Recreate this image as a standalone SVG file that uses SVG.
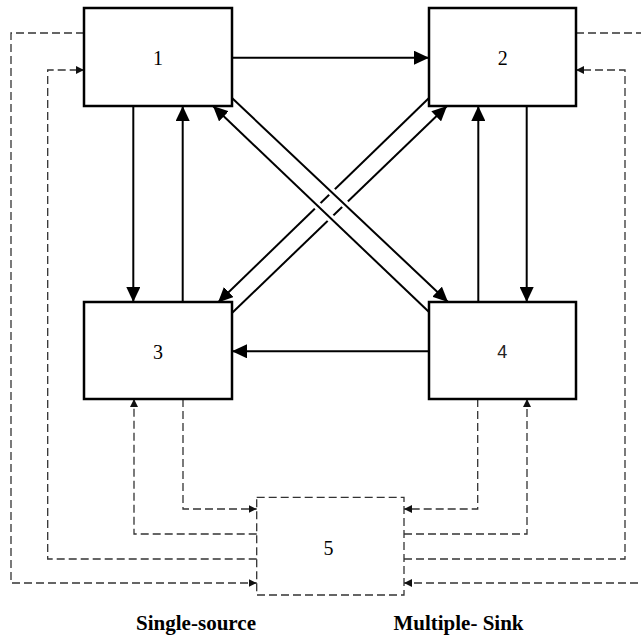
<svg xmlns="http://www.w3.org/2000/svg" width="641" height="637" viewBox="0 0 641 637">
<style>
.box{fill:#fff;stroke:#000;stroke-width:2.5}
.box5{fill:none;stroke:#333;stroke-width:1.3;stroke-dasharray:8 4}
.num{font-family:"Liberation Serif","Times New Roman",serif;font-size:20px;fill:#000;text-anchor:middle}
.numsans{font-family:"Liberation Sans",Arial,sans-serif;font-size:18px;fill:#222;text-anchor:middle}
.lbl{font-family:"Liberation Serif","Times New Roman",serif;font-size:20px;font-weight:bold;fill:#000;text-anchor:middle}
.solid{fill:none;stroke:#000;stroke-width:2;marker-end:url(#ah)}
.halo{fill:none;stroke:#fff;stroke-width:8}
.dash{fill:none;stroke:#333;stroke-width:1.3;stroke-dasharray:8 4}
.dasharr{marker-end:url(#dh)}
</style>
<defs>
<marker id="ah" markerUnits="userSpaceOnUse" markerWidth="15" markerHeight="14" refX="15" refY="7" orient="auto">
<path d="M0,0 L15,7 L0,14 z" fill="#000"/>
</marker>
<marker id="dh" markerUnits="userSpaceOnUse" markerWidth="8" markerHeight="8" refX="8" refY="4" orient="auto">
<path d="M0,0 L8,4 L0,8 z" fill="#111"/>
</marker>
</defs>
<rect width="641" height="637" fill="#fff"/>
<g id="connectors">
<path class="solid" d="M232,57.7 L429,57.7"/>
<path class="solid" d="M133.3,106 L133.3,302"/>
<path class="solid" d="M182.7,302 L182.7,106"/>
<path class="solid" d="M526.7,106 L526.7,302"/>
<path class="solid" d="M478.3,302 L478.3,106"/>
<path class="solid" d="M429,351.3 L232,351.3"/>
<path class="solid" d="M429,98 L218,302.5"/>
<path class="solid" d="M232,313 L447,106"/>
<path class="halo" d="M250,115 L430,284"/>
<path class="halo" d="M411,295 L231,123"/>
<path class="solid" d="M232,98 L448,302"/>
<path class="solid" d="M429,312 L213,106"/>
<path class="dash dasharr" d="M84,33 H11 V583 H256.7"/>
<path class="dash dasharr" d="M256.7,559 H47.7 V70 H84"/>
<path class="dash dasharr" d="M183,399 V509 H256.7"/>
<path class="dash dasharr" d="M256.7,534 H134 V399"/>
<path class="dash dasharr" d="M477.7,399 V509 H404"/>
<path class="dash dasharr" d="M404,534 H527 V399"/>
<path class="dash dasharr" d="M404,559 H625 V70 H576"/>
<path class="dash dasharr" d="M576,33 H650 V583 H404"/>
</g>
<g id="node1">
<rect class="box" x="84" y="8" width="148" height="98"/>
<text class="num" x="158" y="65">1</text>
</g>
<g id="node2">
<rect class="box" x="429" y="8" width="147" height="98"/>
<text class="num" x="502.7" y="65">2</text>
</g>
<g id="node3">
<rect class="box" x="84" y="302" width="148" height="97"/>
<text class="num" x="158" y="358.7">3</text>
</g>
<g id="node4">
<rect class="box" x="429" y="302" width="147" height="97"/>
<text class="numsans" x="502.3" y="358.3">4</text>
</g>
<g id="node5">
<rect class="box5" x="256.7" y="497.3" width="147.3" height="97.7"/>
<text class="num" x="328.5" y="555">5</text>
</g>
<g id="labels">
<text class="lbl" x="196" y="630" textLength="120" lengthAdjust="spacingAndGlyphs">Single-source</text>
<text class="lbl" x="458.5" y="630" textLength="130" lengthAdjust="spacingAndGlyphs">Multiple- Sink</text>
</g>
</svg>
